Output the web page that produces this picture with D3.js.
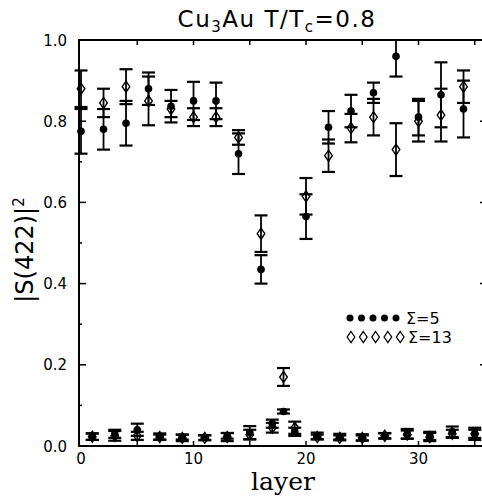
<!DOCTYPE html>
<html>
<head>
<meta charset="utf-8">
<script src="https://d3js.org/d3.v7.min.js"></script>
<style>
  body { margin: 0; background: #fff; }
  svg { display: block; }
  text { fill: #000; }
</style>
</head>
<body>
<script>
// layers 0..35, even layers are the ordered ones, odd ones sit near zero
var layers = d3.range(0, 36);

// Sigma=5 (filled circles)
var circVal = [0.775, 0.023, 0.78, 0.03, 0.795, 0.04, 0.88, 0.023, 0.837, 0.022,
               0.85, 0.021, 0.85, 0.025, 0.72, 0.033, 0.435, 0.055, 0.085, 0.035,
               0.565, 0.025, 0.785, 0.023, 0.825, 0.021, 0.87, 0.025, 0.96, 0.03,
               0.81, 0.025, 0.865, 0.035, 0.83, 0.03];
var circErr = [0.055, 0.008, 0.05, 0.01, 0.055, 0.015, 0.04, 0.008, 0.04, 0.006,
               0.047, 0.006, 0.045, 0.007, 0.05, 0.016, 0.035, 0.01, 0.005, 0.01,
               0.055, 0.008, 0.04, 0.007, 0.04, 0.008, 0.025, 0.006, 0.05, 0.012,
               0.045, 0.01, 0.08, 0.013, 0.07, 0.015];

// Sigma=13 (open diamonds)
var diamVal = [0.88, 0.023, 0.845, 0.025, 0.885, 0.025, 0.85, 0.022, 0.83, 0.02,
               0.81, 0.02, 0.81, 0.022, 0.76, 0.028, 0.523, 0.045, 0.17, 0.045,
               0.615, 0.022, 0.715, 0.02, 0.783, 0.02, 0.81, 0.025, 0.73, 0.028,
               0.80, 0.022, 0.815, 0.03, 0.885, 0.03];
var diamErr = [0.045, 0.008, 0.035, 0.012, 0.043, 0.01, 0.06, 0.006, 0.02, 0.008,
               0.022, 0.006, 0.022, 0.01, 0.018, 0.012, 0.045, 0.012, 0.022, 0.015,
               0.045, 0.006, 0.04, 0.006, 0.035, 0.006, 0.045, 0.007, 0.065, 0.01,
               0.05, 0.01, 0.065, 0.01, 0.04, 0.01];

var yTicks = [0, 0.2, 0.4, 0.6, 0.8, 1.0];
var xTicks = [0, 10, 20, 30];

var W = 482, H = 499;
var x = d3.scaleLinear().domain([-0.18, 36]).range([79, 486]);
var y = d3.scaleLinear().domain([0, 1]).range([446, 40]);

var svg = d3.select("body").append("svg")
    .attr("width", W).attr("height", H);

// only clip at the top (value 1.0), markers on layer 0 sit on the left axis
svg.append("clipPath").attr("id", "plotclip")
  .append("rect").attr("x", 0).attr("y", 40).attr("width", W).attr("height", 420);

// frame
svg.append("rect")
    .attr("x", 79).attr("y", 40).attr("width", 407).attr("height", 406)
    .attr("fill", "none").attr("stroke", "#000").attr("stroke-width", 2);

// inward ticks, left and right
var gl = svg.append("g");
gl.selectAll("line.l").data(d3.range(0, 11)).enter().append("line").attr("class", "l")
    .attr("x1", 79).attr("x2", function(i) { return i % 2 == 0 ? 86 : 82; })
    .attr("y1", function(i) { return y(i / 10); }).attr("y2", function(i) { return y(i / 10); })
    .attr("stroke", "#000").attr("stroke-width", 1.5);
gl.selectAll("line.r").data(d3.range(0, 11)).enter().append("line").attr("class", "r")
    .attr("x1", 486).attr("x2", function(i) { return i % 2 == 0 ? 480 : 483; })
    .attr("y1", function(i) { return y(i / 10); }).attr("y2", function(i) { return y(i / 10); })
    .attr("stroke", "#000").attr("stroke-width", 1.5);

var xt = d3.range(5, 36, 5);
svg.selectAll("line.xt").data(xt).enter().append("line").attr("class", "xt")
    .attr("x1", function(d) { return x(d); }).attr("x2", function(d) { return x(d); })
    .attr("y1", 40).attr("y2", 45)
    .attr("stroke", "#000").attr("stroke-width", 1.5);
svg.selectAll("line.xb").data(xt).enter().append("line").attr("class", "xb")
    .attr("x1", function(d) { return x(d); }).attr("x2", function(d) { return x(d); })
    .attr("y1", 446).attr("y2", 441)
    .attr("stroke", "#000").attr("stroke-width", 1.5);

// tick labels
svg.selectAll("text.yl").data(yTicks).enter().append("text").attr("class", "yl")
    .attr("x", 67).attr("y", function(d) { return y(d) + 5.5; })
    .attr("text-anchor", "end")
    .style("font-family", "DejaVu Sans").style("font-size", "15px")
    .text(function(d) { return d3.format(".1f")(d); });

svg.selectAll("text.xl").data(xTicks).enter().append("text").attr("class", "xl")
    .attr("x", function(d) { return x(d); }).attr("y", 464)
    .attr("text-anchor", "middle")
    .style("font-family", "DejaVu Sans").style("font-size", "15px")
    .text(function(d) { return d; });

// axis titles
svg.append("text")
    .attr("x", 283).attr("y", 490).attr("text-anchor", "middle")
    .style("font-family", "DejaVu Serif").style("font-size", "25px")
    .text("layer");

svg.append("text")
    .attr("transform", "translate(33,250) rotate(-90)")
    .attr("text-anchor", "middle")
    .style("font-family", "DejaVu Sans").style("font-size", "24px")
    .html("|S(422)|<tspan dy='-9' font-size='15px'>2</tspan>");

// title
var title = svg.append("text")
    .attr("x", 277).attr("y", 27).attr("text-anchor", "middle")
    .style("font-family", "DejaVu Sans").style("font-size", "23px")
    .style("letter-spacing", "1.5px");
title.append("tspan").text("Cu");
title.append("tspan").attr("dy", 5).style("font-size", "15px").text("3");
title.append("tspan").attr("dy", -5).text("Au  T/T");
title.append("tspan").attr("dy", 5).style("font-size", "15px").text("c");
title.append("tspan").attr("dy", -5).text("=0.8");

// error bars + markers
var plot = svg.append("g").attr("clip-path", "url(#plotclip)");

function errBars(vals, errs) {
  var g = plot.append("g");
  layers.forEach(function(l) {
    var cx = x(l), lo = y(vals[l] - errs[l]), hi = y(vals[l] + errs[l]);
    g.append("line").attr("x1", cx).attr("x2", cx).attr("y1", lo).attr("y2", hi)
        .attr("stroke", "#000").attr("stroke-width", 1.8);
    [lo, hi].forEach(function(yy) {
      g.append("line").attr("x1", cx - 6.5).attr("x2", cx + 6.5).attr("y1", yy).attr("y2", yy)
          .attr("stroke", "#000").attr("stroke-width", 2.2);
    });
  });
}
errBars(diamVal, diamErr);
errBars(circVal, circErr);

var diamond = "M0,-5.5L3.8,0L0,5.5L-3.8,0Z";

plot.selectAll("path.d").data(layers).enter().append("path").attr("class", "d")
    .attr("d", diamond)
    .attr("transform", function(l) { return "translate(" + x(l) + "," + y(diamVal[l]) + ")"; })
    .attr("fill", "none").attr("stroke", "#000").attr("stroke-width", 1.4);

plot.selectAll("circle.c").data(layers).enter().append("circle").attr("class", "c")
    .attr("cx", function(l) { return x(l); }).attr("cy", function(l) { return y(circVal[l]); })
    .attr("r", 3.8).attr("fill", "#000");

// legend
var leg = svg.append("g");
leg.selectAll("circle").data(d3.range(5)).enter().append("circle")
    .attr("cx", function(i) { return 350 + i * 11.5; }).attr("cy", 318)
    .attr("r", 3.5).attr("fill", "#000");
leg.selectAll("path").data(d3.range(5)).enter().append("path")
    .attr("d", diamond)
    .attr("transform", function(i) { return "translate(" + (351 + i * 12.3) + ",337)"; })
    .attr("fill", "none").attr("stroke", "#000").attr("stroke-width", 1.3);
leg.append("text").attr("x", 406).attr("y", 324)
    .style("font-family", "DejaVu Sans").style("font-size", "16px").text("Σ=5");
leg.append("text").attr("x", 408).attr("y", 343)
    .style("font-family", "DejaVu Sans").style("font-size", "16px").text("Σ=13");
</script>
</body>
</html>
